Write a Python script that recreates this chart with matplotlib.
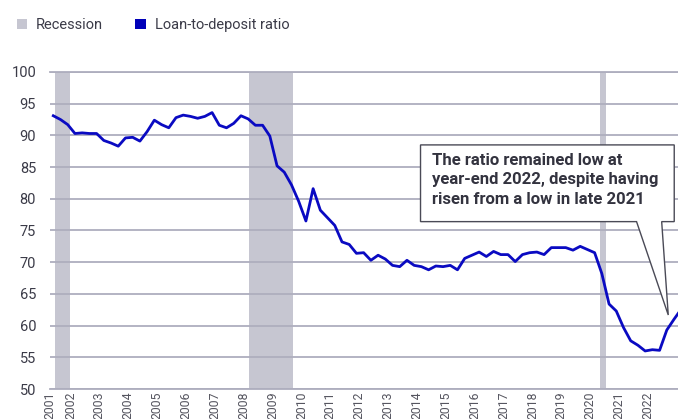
import numpy as np
import matplotlib
matplotlib.use("Agg")
import matplotlib.pyplot as plt
from matplotlib.patches import Patch, Polygon

plt.rcParams['font.family'] = ['Roboto', 'DejaVu Sans']

# quarterly loan-to-deposit ratio, 2001Q1 .. 2022Q4
ratio = [93.1, 92.5, 91.7, 90.3, 90.4, 90.3, 90.3, 89.2, 88.8, 88.3,
         89.6, 89.7, 89.1, 90.6, 92.4, 91.7, 91.2, 92.8, 93.2, 93.0,
         92.7, 93.0, 93.6, 91.6, 91.2, 91.9, 93.1, 92.6, 91.6, 91.6,
         89.9, 85.2, 84.2, 82.2, 79.6, 76.5, 81.6, 78.2, 77.0, 75.8,
         73.2, 72.8, 71.4, 71.5, 70.3, 71.1, 70.5, 69.5, 69.3, 70.3,
         69.5, 69.3, 68.8, 69.4, 69.3, 69.5, 68.8, 70.6, 71.1, 71.6,
         70.9, 71.7, 71.2, 71.2, 70.1, 71.2, 71.5, 71.6, 71.2, 72.3,
         72.3, 72.3, 71.9, 72.5, 72.0, 71.5, 68.2, 63.4, 62.3, 59.7,
         57.6, 56.9, 56.0, 56.2, 56.1, 59.3, 61.0, 62.6]
start_year = 2001
recessions = [(2001.31, 2001.83), (2008.03, 2009.55), (2020.19, 2020.41)]
year_labels = list(range(2001, 2023))
y_ticks = list(range(50, 101, 5))
note = "The ratio remained low at\nyear-end 2022, despite having\nrisen from a low in late 2021"

# quarter-end positions in decimal years
x = start_year + (np.arange(len(ratio)) + 1) / 4
x_left, x_right = 2001.136, 2022.888

grid_c = '#aeaebe'
rec_c = '#c6c6d1'
line_c = '#0a0ac2'
text_c = '#3b3b48'

fig = plt.figure(figsize=(6.78, 4.19), dpi=100)
ax = fig.add_axes([50 / 678, 30 / 419, 628 / 678, 317 / 419])

for a, b in recessions:
    ax.axvspan(a, b, color=rec_c, lw=0, zorder=1)

ax.plot(x, ratio, color=line_c, lw=2, zorder=3)

ax.set_yticks(y_ticks)
# year labels sit a little left of the quarter ticks, as in the source
ax.set_xticks([max(y - 0.15, x_left) for y in year_labels])
ax.set_xticklabels([str(y) for y in year_labels], rotation=90)
ax.set_xlim(x_left, x_right)
ax.set_ylim(50, 100)
ax.set_axisbelow('line')
ax.grid(axis='y', color=grid_c, lw=1.3)
ax.tick_params(axis='y', length=0, pad=10, labelsize=10.5, labelcolor=text_c)
ax.tick_params(axis='x', length=0, pad=2, labelsize=8.8, labelcolor='#55555f')
for s in ['left', 'right']:
    ax.spines[s].set_visible(False)
for s in ['top', 'bottom']:
    ax.spines[s].set_color(grid_c)
    ax.spines[s].set_linewidth(1.3)

# callout box with pointer
x0, x1, yb, yt = 0.590, 0.994, 0.528, 0.770
tip = (0.9845, 0.2334)
shape = [(x0, yb), (0.934, yb), tip, (0.974, yb), (x1, yb), (x1, yt), (x0, yt)]
ax.add_patch(Polygon(shape, closed=True, transform=ax.transAxes, facecolor='white',
                     edgecolor='#4a4a56', lw=1, zorder=5, clip_on=False))
ax.text(0.608, 0.744, note, transform=ax.transAxes, ha='left', va='top',
        fontsize=12, fontweight='bold', color='#33333f', linespacing=1.36, zorder=6)

handles = [Patch(facecolor=rec_c, edgecolor='none', label='Recession'),
           Patch(facecolor='#0000b8', edgecolor='none', label='Loan-to-deposit ratio')]
fig.legend(handles=handles, loc='upper left', bbox_to_anchor=(0.005, 0.988), ncol=2,
           frameon=False, handlelength=0.75, handleheight=0.75, handletextpad=0.6,
           columnspacing=2.2, prop={'size': 10.5}, labelcolor=text_c)

fig.savefig('out.png', dpi=100)
